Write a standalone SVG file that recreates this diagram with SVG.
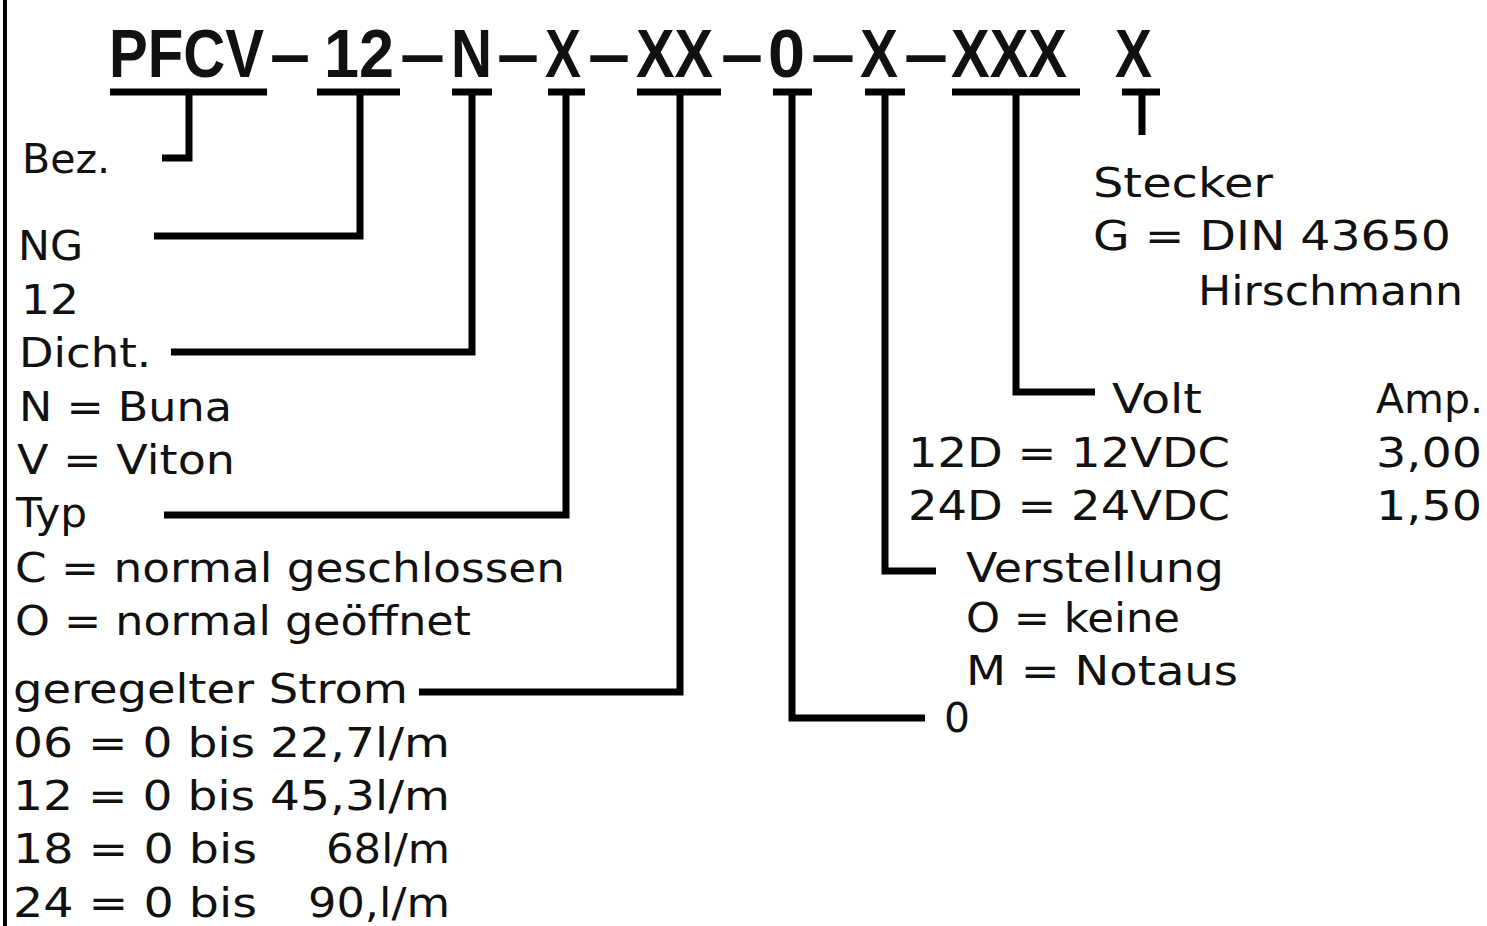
<svg xmlns="http://www.w3.org/2000/svg" width="1487" height="926" viewBox="0 0 1487 926">
<style>
.t{font-family:"DejaVu Sans","Liberation Sans",sans-serif;font-size:40px;fill:#111}
.title{font-family:"Liberation Sans","DejaVu Sans",sans-serif;font-size:68px;font-weight:bold;fill:#111}
.c{fill:none;stroke:#000;stroke-width:7;stroke-linecap:butt;stroke-linejoin:miter}
</style>
<rect x="0" y="0" width="1487" height="926" fill="#fff"/>
<line x1="5" y1="0" x2="5" y2="926" stroke="#000" stroke-width="4"/>
<g id="code">
<text class="title" y="77"><tspan x="109" textLength="155" lengthAdjust="spacingAndGlyphs">PFCV</tspan><tspan x="270" textLength="40" lengthAdjust="spacingAndGlyphs">–</tspan><tspan x="324" textLength="70" lengthAdjust="spacingAndGlyphs">12</tspan><tspan x="400" textLength="45" lengthAdjust="spacingAndGlyphs">–</tspan><tspan x="451" textLength="41" lengthAdjust="spacingAndGlyphs">N</tspan><tspan x="497" textLength="42" lengthAdjust="spacingAndGlyphs">–</tspan><tspan x="545" textLength="36" lengthAdjust="spacingAndGlyphs">X</tspan><tspan x="588" textLength="42" lengthAdjust="spacingAndGlyphs">–</tspan><tspan x="636" textLength="77" lengthAdjust="spacingAndGlyphs">XX</tspan><tspan x="721" textLength="42" lengthAdjust="spacingAndGlyphs">–</tspan><tspan x="768" textLength="37" lengthAdjust="spacingAndGlyphs">0</tspan><tspan x="811" textLength="44" lengthAdjust="spacingAndGlyphs">–</tspan><tspan x="860" textLength="38" lengthAdjust="spacingAndGlyphs">X</tspan><tspan x="904" textLength="44" lengthAdjust="spacingAndGlyphs">–</tspan><tspan x="951" textLength="116" lengthAdjust="spacingAndGlyphs">XXX</tspan> <tspan x="1115" textLength="37" lengthAdjust="spacingAndGlyphs">X</tspan></text>
</g>
<g id="connectors">
<path class="c" d="M110,92 H267 M189,92 V158 H162"/>
<path class="c" d="M317,92 H400 M360,92 V236 H154"/>
<path class="c" d="M452,92 H492 M472,92 V352 H171"/>
<path class="c" d="M548,92 H585 M566,92 V515 H164"/>
<path class="c" d="M637,92 H721 M680,92 V692 H419"/>
<path class="c" d="M773,92 H812 M792,92 V718 H925"/>
<path class="c" d="M865,92 H905 M885,92 V571 H936"/>
<path class="c" d="M952,92 H1080 M1016,92 V392 H1095"/>
<path class="c" d="M1122,92 H1160 M1142,92 V135"/>
</g>
<g id="bez"><text class="t" x="22" y="173" textLength="88" lengthAdjust="spacingAndGlyphs">Bez.</text></g>
<g id="ng">
<text class="t" x="18" y="260" textLength="65" lengthAdjust="spacingAndGlyphs">NG</text>
<text class="t" x="21" y="314" textLength="58" lengthAdjust="spacingAndGlyphs">12</text>
</g>
<g id="dicht">
<text class="t" x="19" y="367" textLength="132" lengthAdjust="spacingAndGlyphs">Dicht.</text>
<text class="t" x="19" y="421" textLength="213" lengthAdjust="spacingAndGlyphs">N = Buna</text>
<text class="t" x="17" y="474" textLength="218" lengthAdjust="spacingAndGlyphs">V = Viton</text>
</g>
<g id="typ">
<text class="t" x="16" y="527" textLength="71" lengthAdjust="spacingAndGlyphs">Typ</text>
<text class="t" x="15" y="582" textLength="550" lengthAdjust="spacingAndGlyphs">C = normal geschlossen</text>
<text class="t" x="15" y="635" textLength="456" lengthAdjust="spacingAndGlyphs">O = normal geöffnet</text>
</g>
<g id="strom">
<text class="t" x="13" y="703" textLength="395" lengthAdjust="spacingAndGlyphs">geregelter Strom</text>
<text class="t" x="13" y="757" textLength="437" lengthAdjust="spacingAndGlyphs">06 = 0 bis 22,7l/m</text>
<text class="t" x="13" y="810" textLength="437" lengthAdjust="spacingAndGlyphs">12 = 0 bis 45,3l/m</text>
<text class="t" y="863"><tspan x="13" textLength="244" lengthAdjust="spacingAndGlyphs">18 = 0 bis</tspan> <tspan x="326" textLength="124" lengthAdjust="spacingAndGlyphs">68l/m</tspan></text>
<text class="t" y="917"><tspan x="13" textLength="244" lengthAdjust="spacingAndGlyphs">24 = 0 bis</tspan> <tspan x="308" textLength="142" lengthAdjust="spacingAndGlyphs">90,l/m</tspan></text>
</g>
<g id="null"><text class="t" x="944" y="732" textLength="26" lengthAdjust="spacingAndGlyphs">0</text></g>
<g id="verstellung">
<text class="t" x="966" y="582" textLength="258" lengthAdjust="spacingAndGlyphs">Verstellung</text>
<text class="t" x="966" y="632" textLength="214" lengthAdjust="spacingAndGlyphs">O = keine</text>
<text class="t" x="966" y="685" textLength="272" lengthAdjust="spacingAndGlyphs">M = Notaus</text>
</g>
<g id="volt">
<text class="t" x="1112" y="413" textLength="90" lengthAdjust="spacingAndGlyphs">Volt</text>
<text class="t" x="908" y="467" textLength="322" lengthAdjust="spacingAndGlyphs">12D = 12VDC</text>
<text class="t" x="908" y="520" textLength="322" lengthAdjust="spacingAndGlyphs">24D = 24VDC</text>
<text class="t" x="1376" y="413" textLength="107" lengthAdjust="spacingAndGlyphs">Amp.</text>
<text class="t" x="1376" y="467" textLength="106" lengthAdjust="spacingAndGlyphs">3,00</text>
<text class="t" x="1376" y="520" textLength="106" lengthAdjust="spacingAndGlyphs">1,50</text>
</g>
<g id="stecker">
<text class="t" x="1093" y="197" textLength="180" lengthAdjust="spacingAndGlyphs">Stecker</text>
<text class="t" x="1093" y="250" textLength="358" lengthAdjust="spacingAndGlyphs">G = DIN 43650</text>
<text class="t" x="1198" y="305" textLength="265" lengthAdjust="spacingAndGlyphs">Hirschmann</text>
</g>
</svg>
